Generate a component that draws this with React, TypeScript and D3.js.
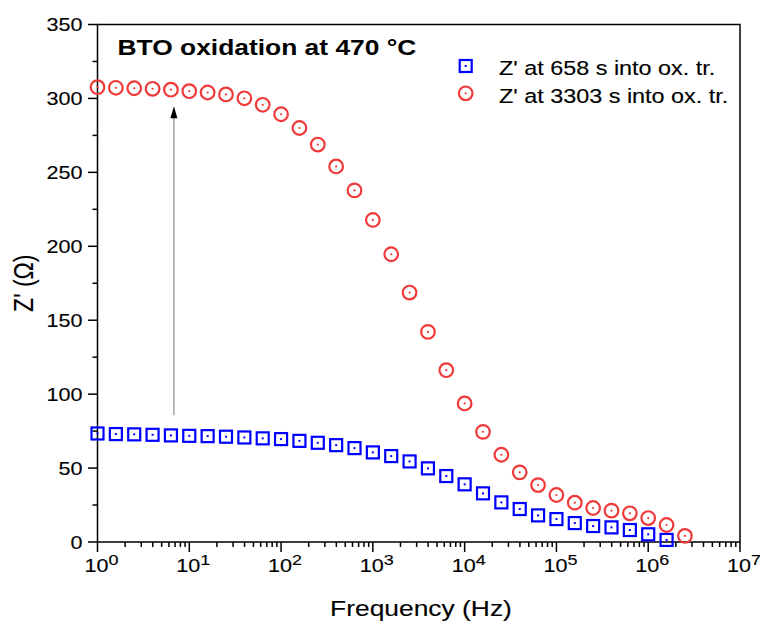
import React from "react";
import * as d3 from "d3";

const W = 760;
const H = 626;

// frequency exponents: 5 points per decade
const redExp = d3.range(0, 33).map((k) => k * 0.2);
const blueExp = d3.range(0, 32).map((k) => k * 0.2);

const redValues = [
  307.6, 307.2, 306.9, 306.5, 305.9, 304.9, 304.0, 302.7, 300.1, 295.7, 289.3,
  280.0, 268.8, 254.0, 237.8, 217.8, 194.6, 168.7, 142.1, 116.2, 93.7, 74.5,
  59.0, 47.1, 38.5, 31.8, 26.6, 23.0, 21.2, 19.4, 16.2, 11.5, 4.1,
];
const blueValues = [
  73.4, 73.0, 72.8, 72.5, 72.1, 71.8, 71.6, 71.2, 70.7, 70.1, 69.6, 68.4, 67.1,
  65.5, 63.5, 60.6, 58.1, 54.5, 49.8, 44.6, 39.0, 32.9, 26.8, 22.3, 18.0, 15.5,
  12.8, 10.8, 9.9, 8.1, 5.2, 1.4,
];

const yTicks = [0, 50, 100, 150, 200, 250, 300, 350];
const yMinor = [25, 75, 125, 175, 225, 275, 325];
const xDecades = [0, 1, 2, 3, 4, 5, 6, 7];

const titleText = "BTO oxidation at 470 °C";
const legendLabels = ["Z' at 658 s into ox. tr.", "Z' at 3303 s into ox. tr."];
const arrowFreq = 6.8;
const arrowFrom = 85.8;
const arrowTo = 294;

const SX = 1.2; // horizontal stretch of the original image's text
const FONT = "Arial, 'Liberation Sans', sans-serif";
const RED = "#f03a3a";
const BLUE = "#0000ff";
const TS = 0.12; // slight text stroke to mimic the heavier rendering

const L = 97.5,
  R = 740,
  T = 24.5,
  B = 542;

export default function App() {
  const x = d3.scaleLog().domain([1, 1e7]).range([L, R]);
  const y = d3.scaleLinear().domain([0, 350]).range([B, T]);

  const red = redValues.map((v, i) => ({ f: Math.pow(10, redExp[i]), v }));
  const blue = blueValues.map((v, i) => ({ f: Math.pow(10, blueExp[i]), v }));

  const minorX: number[] = [];
  for (let d = 0; d < 7; d++) for (let m = 2; m <= 9; m++) minorX.push(m * Math.pow(10, d));

  const st = (tx: number, ty: number) => `translate(${tx},${ty}) scale(${SX},1)`;

  const ax = x(arrowFreq);
  const ay0 = y(arrowFrom);
  const ay1 = y(arrowTo);

  const sq = 12;
  return (
    <svg
      width={W}
      height={H}
      style={{ position: "absolute", left: 0, top: 0, background: "#fff" }}
      fontFamily={FONT}
    >
      <rect x={0} y={0} width={W} height={H} fill="#fff" />
      {/* frame */}
      <rect x={L} y={T} width={R - L} height={B - T} fill="none" stroke="#000" strokeWidth={1.5} />
      {/* y ticks */}
      {yTicks.map((t) => (
        <g key={"yt" + t}>
          <line x1={L - 9.5} x2={L} y1={y(t)} y2={y(t)} stroke="#000" strokeWidth={1.5} />
          <text transform={st(L - 15, y(t) + 6.5)} textAnchor="end" fontSize={18} fill="#000" stroke="#000" strokeWidth={TS}>
            {t}
          </text>
        </g>
      ))}
      {yMinor.map((t) => (
        <line key={"ym" + t} x1={L - 5} x2={L} y1={y(t)} y2={y(t)} stroke="#000" strokeWidth={1.5} />
      ))}
      {/* x ticks */}
      {xDecades.map((d) => (
        <g key={"xt" + d}>
          <line x1={x(Math.pow(10, d))} x2={x(Math.pow(10, d))} y1={B} y2={B + 10} stroke="#000" strokeWidth={1.5} />
          <text transform={st(x(Math.pow(10, d)) + 4, 571.5)} textAnchor="middle" fontSize={18} fill="#000" stroke="#000" strokeWidth={TS}>
            10
            <tspan fontSize={15} dy={-7}>
              {d}
            </tspan>
          </text>
        </g>
      ))}
      {minorX.map((f, i) => (
        <line key={"xm" + i} x1={x(f)} x2={x(f)} y1={B} y2={B + 5} stroke="#000" strokeWidth={1.5} />
      ))}
      {/* axis titles */}
      <text transform={st(421, 616)} textAnchor="middle" fontSize={22} fill="#000" stroke="#000" strokeWidth={TS}>
        Frequency (Hz)
      </text>
      <text
        transform={`translate(33,${(T + B) / 2}) scale(${SX},1) rotate(-90)`}
        textAnchor="middle"
        fontSize={23}
        fill="#000"
        stroke="#000"
        strokeWidth={TS}
      >
        Z' (Ω)
      </text>
      {/* title */}
      <text transform={st(117.5, 54.5)} fontSize={22} fontWeight="bold" fill="#000">
        {titleText}
      </text>
      {/* arrow */}
      <line x1={ax} x2={ax} y1={ay0} y2={ay1 + 10} stroke="#8a8a8a" strokeWidth={1.2} />
      <path d={`M${ax},${ay1 - 1} L${ax - 3.5},${ay1 + 11} L${ax + 3.5},${ay1 + 11} Z`} fill="#000" />
      {/* blue squares */}
      {blue.map((p, i) => (
        <g key={"b" + i}>
          <rect
            x={x(p.f) - sq / 2}
            y={y(p.v) - sq / 2}
            width={sq}
            height={sq}
            fill="none"
            stroke={BLUE}
            strokeWidth={2.2}
          />
          <rect x={x(p.f) - 1} y={y(p.v) - 1} width={2} height={2} fill={BLUE} />
        </g>
      ))}
      {/* red circles */}
      {red.map((p, i) => (
        <g key={"r" + i}>
          <circle cx={x(p.f)} cy={y(p.v)} r={6.8} fill="none" stroke={RED} strokeWidth={2.2} />
          <circle cx={x(p.f)} cy={y(p.v)} r={1.1} fill={RED} />
        </g>
      ))}
      {/* legend */}
      <g>
        <rect x={465.7 - 6} y={66 - 6} width={12} height={12} fill="none" stroke={BLUE} strokeWidth={2.2} />
        <rect x={464.7} y={65} width={2} height={2} fill={BLUE} />
        <text transform={st(499, 75)} fontSize={19.5} fill="#000" stroke="#000" strokeWidth={TS}>
          {legendLabels[0]}
        </text>
        <circle cx={465.7} cy={93.3} r={6.8} fill="none" stroke={RED} strokeWidth={2.2} />
        <circle cx={465.7} cy={93.3} r={1.1} fill={RED} />
        <text transform={st(499, 102.5)} fontSize={19.5} fill="#000" stroke="#000" strokeWidth={TS}>
          {legendLabels[1]}
        </text>
      </g>
    </svg>
  );
}
